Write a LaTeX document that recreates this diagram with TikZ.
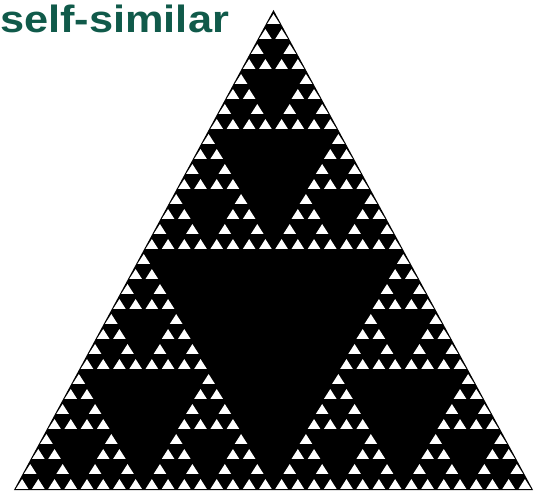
\documentclass[tikz,border=0pt]{standalone}
\usepackage{fontspec}
\setmainfont{Liberation Sans}
\usetikzlibrary{positioning}
\definecolor{titlegreen}{HTML}{105A4A}

\tikzset{
  % Sierpinski gasket
  gasket/.style    = { fill=black },
  hole/.style      = { fill=white },
  titlelabel/.style= { font=\fontsize{38}{40}\selectfont\bfseries, text=titlegreen,
                       inner sep=0, xscale=1.14 }
}

% 2^(level-1)
\newcommand\sierphalf[1]{\ifcase#1 0\or1\or2\or4\or8\or16\or32\fi}
% row, column, level
\newcommand\sierpholes[3]{%
  \ifnum#3=0
    \fill[hole] ({#2-#1/2-0.39},{-#1-0.93}) -- ({#2-#1/2+0.39},{-#1-0.93})
                -- ({#2-#1/2},{-#1-0.27}) -- cycle;
  \else
    \edef\sierpnext{%
      \noexpand\sierpholes{#1}{#2}{\the\numexpr#3-1\relax}%
      \noexpand\sierpholes{\the\numexpr#1+\sierphalf{#3}\relax}{#2}{\the\numexpr#3-1\relax}%
      \noexpand\sierpholes{\the\numexpr#1+\sierphalf{#3}\relax}{\the\numexpr#2+\sierphalf{#3}\relax}{\the\numexpr#3-1\relax}}%
    \expandafter\sierpnext
  \fi}

\begin{document}
\begin{tikzpicture}[x=16.219pt, y=15pt]

  \useasboundingbox (-273.5pt,-482pt) rectangle (260.5pt,10pt);

  \coordinate (apex) at (0,0);
  \coordinate (left) at (-16,-32);
  \coordinate (right) at (16,-32);

  \fill[gasket] (apex) -- (left) -- (right) -- cycle;
  \sierpholes{0}{0}{5}

  \node[titlelabel, anchor=north west] (title) at (-273.5pt,5pt) {self-similar};

\end{tikzpicture}
\end{document}
